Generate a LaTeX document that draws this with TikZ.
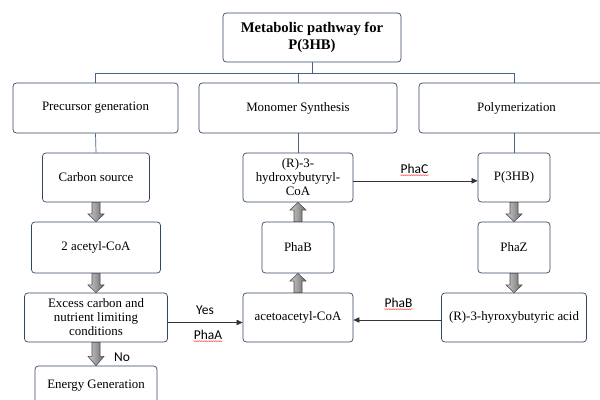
\documentclass[tikz,border=0pt]{standalone}
\usepackage{fontspec}
\setmainfont{Liberation Serif}
\newfontfamily\labelfont{Carlito}
\usetikzlibrary{calc,arrows.meta,decorations.pathmorphing}
\definecolor{boxline}{RGB}{50,70,100}
\definecolor{treeline}{RGB}{70,100,140}
\tikzset{
	box/.style={draw=boxline,line width=0.6pt,rounded corners=1mm,align=center,inner sep=0pt,font=\fontsize{11}{12}\selectfont},
	tree/.style={draw=treeline,line width=0.6pt},
	flow/.style={draw=black!80,line width=0.5pt,-{Triangle[length=1.8mm,width=1.6mm]}},
	lbl/.style={font=\labelfont\fontsize{11.5}{13}\selectfont,inner sep=0pt},
	spell/.style={draw=red,line width=0.35pt,decorate,decoration={snake,amplitude=0.25pt,segment length=1.5pt}},
	fatfill/.style={left color=gray!40,right color=gray!85!black,draw=black!70,line width=0.5pt}
}
\newcommand{\fatarrow}[2]{%
	\coordinate (fa1) at (#1);
	\coordinate (fa2) at (#2);
	\coordinate (fam) at ($(fa1)!0.6!(fa2)$);
	\shadedraw[fatfill] ($(fa1)!1.2mm!90:(fa2)$) -- ($(fam)!1.2mm!90:(fa2)$) -- ($(fam)!2.4mm!90:(fa2)$) -- (fa2)
		-- ($(fam)!2.4mm!-90:(fa2)$) -- ($(fam)!1.2mm!-90:(fa2)$) -- ($(fa1)!1.2mm!-90:(fa2)$) -- cycle;}
\begin{document}
\begin{tikzpicture}[x=0.03cm,y=-0.03cm,>=stealth]
	  \useasboundingbox (0,0) rectangle (600,399);
	  \clip (0,0) rectangle (600,399);
	  \node[box,minimum width=5.34cm,minimum height=1.47cm,font=\bfseries\fontsize{12.5}{14.5}\selectfont] (title) at (312,37.5) {Metabolic pathway for\\P(3HB)};
	  \node[box,minimum width=4.95cm,minimum height=1.5cm] (prec) at (95.5,108) {Precursor generation};
	  \node[box,minimum width=5.94cm,minimum height=1.5cm] (mono) at (298,108) {Monomer Synthesis};
	  \node[box,minimum width=5.85cm,minimum height=1.5cm] (poly) at (516.5,108) {Polymerization};
	  \node[box,minimum width=3.21cm,minimum height=1.47cm] (carbon) at (96,177.5) {Carbon source};
	  \node[box,minimum width=3.87cm,minimum height=1.53cm] (acetyl) at (96,247.5) {2 acetyl-CoA};
	  \node[box,minimum width=4.29cm,minimum height=1.47cm] (excess) at (96,317.5) {Excess carbon and\\nutrient limiting\\conditions};
	  \node[box,minimum width=3.66cm,minimum height=1.2cm] (energy) at (96,386) {Energy Generation};
	  \node[box,minimum width=3.3cm,minimum height=1.47cm] (r3) at (298,177.5) {(R)-3-\\hydroxybutyryl-\\CoA};
	  \node[box,minimum width=2.16cm,minimum height=1.53cm] (phab) at (298,247.5) {PhaB};
	  \node[box,minimum width=3.3cm,minimum height=1.47cm] (aceto) at (298,317.5) {acetoacetyl-CoA};
	  \node[box,minimum width=2.16cm,minimum height=1.47cm] (p3hb) at (514,177.5) {P(3HB)};
	  \node[box,minimum width=2.16cm,minimum height=1.53cm] (phaz) at (514,247.5) {PhaZ};
	  \node[box,minimum width=4.35cm,minimum height=1.47cm] (acid) at (514,317.5) {(R)-3-hyroxybutyric acid};
	  \draw[tree] (title.south) -- ++(0,11) coordinate (hub);
	  \draw[tree] (prec.north) |- (hub) -| (p3hb.north |- poly.north);
	  \draw[tree] (mono.north) -- (mono.north |- hub);
	  \draw[tree] (prec.south) -- (carbon.north);
	  \draw[tree] (mono.south) -- (r3.north);
	  \draw[tree] (p3hb.north |- poly.south) -- (p3hb.north);
	  \fatarrow{carbon.south}{acetyl.north}
	  \fatarrow{acetyl.south}{excess.north}
	  \fatarrow{excess.south}{energy.north}
	  \fatarrow{aceto.north}{phab.south}
	  \fatarrow{phab.north}{r3.south}
	  \fatarrow{p3hb.south}{phaz.north}
	  \fatarrow{phaz.south}{acid.north}
	  \draw[flow] ([yshift=-1mm]r3.east) -- ([yshift=-1mm]p3hb.west);
	  \draw[flow] ([yshift=-1.5mm]excess.east) -- ([yshift=-1.5mm]aceto.west);
	  \draw[flow] ([yshift=-0.75mm]acid.west) -- ([yshift=-0.75mm]aceto.east);
	  \node[lbl] (lphac) at (414.5,169) {PhaC};
	  \node[lbl] (lyes) at (205,310) {Yes};
	  \node[lbl] (lphaa) at (208,335) {PhaA};
	  \node[lbl] (lphab) at (398.5,303) {PhaB};
	  \node[lbl] (lno) at (122,357) {No};
	  \draw[spell] ([yshift=-1pt]lphac.south west) -- ([yshift=-1pt]lphac.south east);
	  \draw[spell] ([yshift=-1pt]lphaa.south west) -- ([yshift=-1pt]lphaa.south east);
	  \draw[spell] ([yshift=-1pt]lphab.south west) -- ([yshift=-1pt]lphab.south east);
	\end{tikzpicture}
\end{document}
